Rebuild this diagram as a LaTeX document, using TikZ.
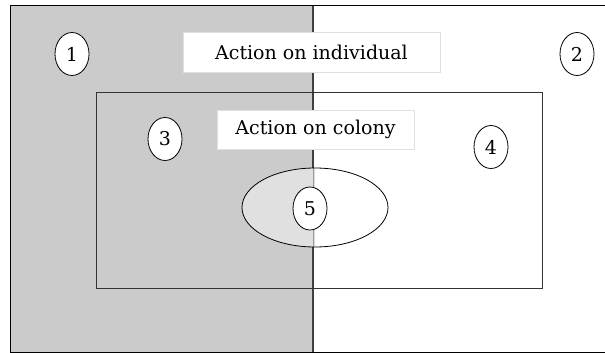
\documentclass[tikz,border=0pt]{standalone}
\usepackage{fontspec}
\setmainfont{DejaVu Serif}
\usetikzlibrary{shapes.geometric}
\definecolor{leftgray}{HTML}{CBCBCB}
\definecolor{lightgray5}{HTML}{E0E0E0}
\begin{document}
\begin{tikzpicture}[x=1pt,y=-1pt,
  num/.style={ellipse,draw=black,line width=0.8pt,fill=white,minimum width=34pt,minimum height=43pt,inner sep=0pt,font=\fontsize{19}{21}\selectfont},
  lab/.style={rectangle,draw=black!12,line width=0.8pt,fill=white,inner sep=0pt,font=\fontsize{19}{21}\selectfont}]
\useasboundingbox (0,0) rectangle (605,353);
% left shaded half
\fill[leftgray] (10,6) rectangle (313,352);
% outer frame (right edge out of view)
\draw[line width=1pt] (610,6) -- (10,6) -- (10,352) -- (610,352);
% ellipse 5 region, left half lighter
\fill[lightgray5] (315,247) arc[start angle=90,end angle=270,x radius=73,y radius=39.5] -- cycle;
% divider
\draw[black!75,line width=1.2pt] (313,6) -- (313,168);
\draw[black!75,line width=1.2pt] (313,247) -- (313,352);
\draw[black!40,line width=0.8pt] (313,168) -- (313,247);
% inner rectangle
\draw[black!80,line width=1pt] (96,92) rectangle (542,288);
% ellipse outline
\node[ellipse,draw=black,line width=0.8pt,minimum width=146pt,minimum height=79pt,inner sep=0pt] (e5) at (315,207.5) {};
% labels
\node[lab,minimum width=257pt,minimum height=40pt] (ind) at (311.5,52) {Action on individual};
\node[lab,minimum width=197pt,minimum height=39pt] (col) at (315.5,129.5) {Action on colony};
% numbered circles
\node[num] (n1) at (72,54) {1};
\node[num] (n2) at (577,54) {2};
\node[num] (n3) at (165,139) {3};
\node[num] (n4) at (491,147) {4};
\node[num] (n5) at (310,208.5) {5};
\end{tikzpicture}
\end{document}
